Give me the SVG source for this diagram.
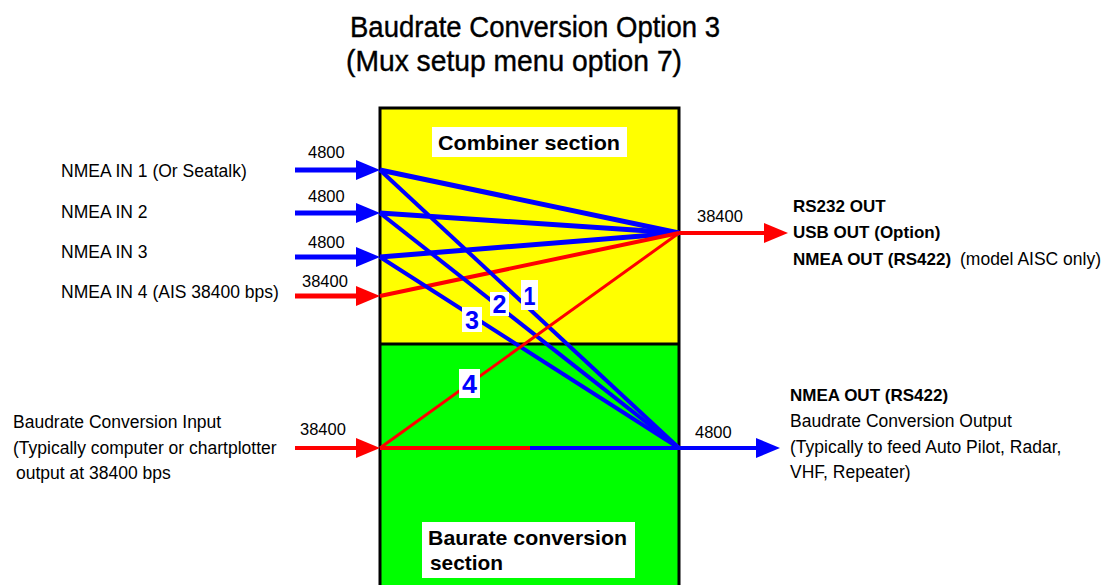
<svg xmlns="http://www.w3.org/2000/svg" width="1113" height="585" viewBox="0 0 1113 585">
  <style>
    .t { font-family: "Liberation Sans", Arial, sans-serif; fill: #000; }
    .reg { font-size: 17.5px; }
    .rate { font-size: 16.5px; }
    .bold { font-size: 17px; font-weight: bold; }
    .sec { font-size: 21px; font-weight: bold; }
    .title { font-size: 30px; stroke: #000; stroke-width: 0.4px; }
    .num { font-family: "Liberation Sans", Arial, sans-serif; font-size: 25px; font-weight: bold; fill: #0000ff; text-anchor: middle; }
    .blue { stroke: #0000ff; fill: none; }
    .red { stroke: #ff0000; fill: none; }
    .tag { fill: #ffffff; }
  </style>
  <defs>
    <marker id="ahBlue" markerUnits="userSpaceOnUse" markerWidth="24" markerHeight="20" refX="16" refY="10" orient="auto">
      <path d="M0,0 L24,10 L0,20 z" fill="#0000ff"/>
    </marker>
    <marker id="ahRed" markerUnits="userSpaceOnUse" markerWidth="24" markerHeight="20" refX="16" refY="10" orient="auto">
      <path d="M0,0 L24,10 L0,20 z" fill="#ff0000"/>
    </marker>
  </defs>

  <rect width="1113" height="585" fill="#ffffff"/>

  <!-- Title -->
  <g id="title">
    <text class="t title" x="350" y="37" textLength="370" lengthAdjust="spacingAndGlyphs">Baudrate Conversion Option 3</text>
    <text class="t title" x="346" y="71" textLength="336" lengthAdjust="spacingAndGlyphs">(Mux setup menu option 7)</text>
  </g>

  <!-- Multiplexer body: combiner (yellow) over baudrate conversion (green) -->
  <g id="mux">
    <rect x="380" y="108" width="299" height="236" fill="#ffff00"/>
    <rect x="380" y="344" width="299" height="250" fill="#00ff00"/>
    <rect x="380" y="108" width="299" height="486" fill="none" stroke="#000" stroke-width="3"/>
    <line x1="380" y1="344" x2="679" y2="344" stroke="#000" stroke-width="3"/>
  </g>

  <g id="combiner-label">
    <rect class="tag" x="432" y="127" width="195" height="30"/>
    <text class="t sec" x="438" y="150" textLength="182" lengthAdjust="spacingAndGlyphs">Combiner section</text>
  </g>

  <g id="conversion-label">
    <rect class="tag" x="422" y="522" width="213" height="56"/>
    <text class="t sec" x="428" y="545" textLength="199" lengthAdjust="spacingAndGlyphs">Baurate conversion</text>
    <text class="t sec" x="430" y="570" textLength="73" lengthAdjust="spacingAndGlyphs">section</text>
  </g>

  <!-- Inputs -->
  <g id="in1">
    <text class="t reg" x="61" y="177">NMEA IN 1  (Or Seatalk)</text>
    <text class="t rate" x="308" y="158">4800</text>
  </g>
  <g id="in2">
    <text class="t reg" x="61" y="218">NMEA IN 2</text>
    <text class="t rate" x="308" y="202">4800</text>
  </g>
  <g id="in3">
    <text class="t reg" x="61" y="258">NMEA IN 3</text>
    <text class="t rate" x="308" y="248">4800</text>
  </g>
  <g id="in4">
    <text class="t reg" x="61" y="298">NMEA IN 4  (AIS 38400 bps)</text>
    <text class="t rate" x="302" y="287">38400</text>
  </g>
  <g id="conv-in">
    <text class="t reg" x="13" y="428">Baudrate Conversion Input</text>
    <text class="t reg" x="13" y="454">(Typically computer or chartplotter</text>
    <text class="t reg" x="16" y="479">output at 38400 bps</text>
    <text class="t rate" x="300" y="435">38400</text>
  </g>

  <!-- Outputs -->
  <g id="out-combined">
    <text class="t rate" x="697" y="222">38400</text>
    <text class="t bold" x="793" y="212">RS232 OUT</text>
    <text class="t bold" x="793" y="238">USB OUT (Option)</text>
    <text class="t bold" x="793" y="265">NMEA OUT (RS422)</text>
    <text class="t reg" x="960" y="265">(model AISC only)</text>
  </g>
  <g id="out-conv">
    <text class="t rate" x="695" y="438">4800</text>
    <text class="t bold" x="790" y="401">NMEA OUT (RS422)</text>
    <text class="t reg" x="790" y="427">Baudrate Conversion Output</text>
    <text class="t reg" x="790" y="453">(Typically to feed Auto Pilot, Radar,</text>
    <text class="t reg" x="790" y="478">VHF, Repeater)</text>
  </g>

  <!-- Connectors -->
  <g id="connectors">
    <!-- input arrows -->
    <line class="blue" x1="295" y1="170" x2="372" y2="170" stroke-width="5" marker-end="url(#ahBlue)"/>
    <line class="blue" x1="295" y1="213" x2="372" y2="213" stroke-width="5" marker-end="url(#ahBlue)"/>
    <line class="blue" x1="295" y1="257" x2="372" y2="257" stroke-width="5" marker-end="url(#ahBlue)"/>
    <line class="red" x1="295" y1="296" x2="372" y2="296" stroke-width="5" marker-end="url(#ahRed)"/>
    <line class="red" x1="295" y1="448" x2="372" y2="448" stroke-width="4" marker-end="url(#ahRed)"/>

    <!-- combiner routes -->
    <line class="blue" x1="380" y1="170" x2="679" y2="233" stroke-width="5"/>
    <line class="blue" x1="380" y1="213" x2="679" y2="233" stroke-width="5"/>
    <line class="blue" x1="380" y1="257" x2="679" y2="233" stroke-width="5"/>
    <line class="red" x1="380" y1="296" x2="679" y2="233" stroke-width="4"/>

    <!-- routes 1-3 down to the conversion output -->
    <line class="blue" x1="380" y1="170" x2="679" y2="448" stroke-width="4"/>
    <line class="blue" x1="380" y1="213" x2="679" y2="448" stroke-width="4"/>
    <line class="blue" x1="380" y1="257" x2="679" y2="448" stroke-width="4"/>

    <!-- route 4 up to the combined output -->
    <line class="red" x1="380" y1="448" x2="679" y2="233" stroke-width="3"/>

    <!-- conversion path -->
    <line class="red" x1="380" y1="448" x2="530" y2="448" stroke-width="4"/>
    <line class="blue" x1="530" y1="448" x2="679" y2="448" stroke-width="4"/>

    <!-- outputs -->
    <line class="red" x1="679" y1="233" x2="780" y2="233" stroke-width="4" marker-end="url(#ahRed)"/>
    <line class="blue" x1="679" y1="448" x2="772" y2="448" stroke-width="4" marker-end="url(#ahBlue)"/>

    <!-- route numbers -->
    <rect class="tag" x="521" y="280" width="17" height="30"/>
    <text class="num" x="529.5" y="305" textLength="12" lengthAdjust="spacingAndGlyphs">1</text>
    <rect class="tag" x="490" y="292" width="19" height="24"/>
    <text class="num" x="499.5" y="313" textLength="14" lengthAdjust="spacingAndGlyphs">2</text>
    <rect class="tag" x="462" y="307" width="20" height="25"/>
    <text class="num" x="472" y="329" textLength="14" lengthAdjust="spacingAndGlyphs">3</text>
    <rect class="tag" x="459" y="369" width="21" height="29"/>
    <text class="num" x="469.5" y="393" textLength="15" lengthAdjust="spacingAndGlyphs">4</text>
  </g>
</svg>
